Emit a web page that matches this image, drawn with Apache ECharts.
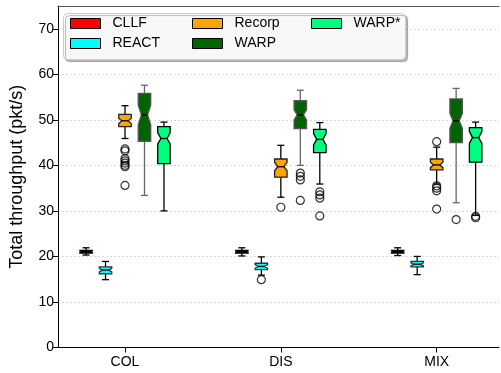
<!DOCTYPE html>
<html>
<head>
<meta charset="utf-8">
<script src="https://cdn.jsdelivr.net/npm/echarts@6/dist/echarts.min.js"></script>
<style>html,body{margin:0;padding:0;background:#fff}#c{width:501px;height:373px}</style>
</head>
<body>
<div id="c"></div>
<script>
// ---- data ----
const categories = ['COL', 'DIS', 'MIX'];
const seriesNames = ['CLLF', 'REACT', 'Recorp', 'WARP', 'WARP*'];
const yTicks = [0, 10, 20, 30, 40, 50, 60, 70];
// each entry: [whiskerLow, q1, notchLow, median, notchHigh, q3, whiskerHigh]
const CLLF_stats = [
  [20.3, 20.75, 20.85, 21.05, 21.25, 21.35, 21.9],
  [20.1, 20.75, 20.85, 21.05, 21.25, 21.35, 21.9],
  [20.2, 20.75, 20.85, 21.05, 21.25, 21.35, 21.9]
];
const REACT_stats = [
  [14.9, 16.2, 16.6, 17.0, 17.4, 17.7, 18.9],
  [15.9, 17.1, 17.4, 17.8, 18.2, 18.5, 19.9],
  [16.0, 17.7, 17.9, 18.3, 18.6, 18.9, 20.0]
];
const Recorp_stats = [
  [45.9, 48.5, 49.2, 49.8, 50.3, 51.2, 53.1],
  [33.0, 37.4, 38.8, 39.7, 40.7, 41.4, 44.4],
  [35.9, 39.0, 39.5, 40.1, 40.7, 41.4, 44.0]
];
const WARP_stats = [
  [33.4, 45.3, 48.9, 51.1, 53.2, 55.8, 57.6],
  [40.0, 48.1, 50.0, 51.1, 52.2, 54.2, 56.5],
  [31.8, 45.0, 48.1, 49.8, 51.4, 54.6, 56.9]
];
const WARPs_stats = [
  [30.0, 40.4, 44.7, 45.9, 47.2, 48.5, 49.5],
  [35.9, 42.8, 44.5, 45.7, 47.0, 47.9, 49.4],
  [29.0, 40.7, 44.8, 46.1, 47.4, 48.3, 49.5]
];
// outliers per category
const CLLF_out = [[], [], []];
const REACT_out = [[], [14.9], []];
const Recorp_out = [[43.6, 43.2, 41.5, 41.0, 40.5, 40.0, 39.7, 35.6], [30.8], [45.2, 35.5, 35.0, 34.4, 30.4]];
const WARP_out = [[], [38.3, 37.6, 36.8, 32.3], [28.1]];
const WARPs_out = [[], [34.2, 33.5, 32.8, 28.9], [28.8, 28.5]];

// ---- styling ----
const allStats = [CLLF_stats, REACT_stats, Recorp_stats, WARP_stats, WARPs_stats];
const allOut = [CLLF_out, REACT_out, Recorp_out, WARP_out, WARPs_out];
const fills = ['#ff0000', '#00ffff', '#ffa500', '#006400', '#00ff7f'];
const edges = ['#000000', '#333333', '#222222', '#555555', '#000000'];
const whiskerColors = ['#000000', '#000000', '#000000', '#666666', '#000000'];
const OFFSET_STEP = 0.125;
const BOX_W = 0.08;
const CAP_W = 0.045;

function makeRender(k) {
  return function (params, api) {
    const x = api.value(0);
    const v = [1, 2, 3, 4, 5, 6, 7].map(i => api.value(i));
    const y = val => api.coord([x, val])[1];
    const xc = api.coord([x, 0])[0];
    const hw = api.size([BOX_W, 0])[0] / 2;
    const cw = api.size([CAP_W, 0])[0] / 2;
    const inset = hw * 0.5;
    const [wl, q1, nl, md, nh, q3, wh] = v.map(y);
    const L = xc - hw, R = xc + hw;
    const lineStyle = {stroke: whiskerColors[k], lineWidth: 1.3};
    return {
      type: 'group',
      children: [
        {type: 'line', shape: {x1: xc, y1: wl, x2: xc, y2: q1}, style: lineStyle},
        {type: 'line', shape: {x1: xc, y1: q3, x2: xc, y2: wh}, style: lineStyle},
        {type: 'line', shape: {x1: xc - cw, y1: wl, x2: xc + cw, y2: wl}, style: lineStyle},
        {type: 'line', shape: {x1: xc - cw, y1: wh, x2: xc + cw, y2: wh}, style: lineStyle},
        {type: 'polygon', shape: {points: [
          [L, q1], [R, q1], [R, nl], [R - inset, md], [R, nh], [R, q3],
          [L, q3], [L, nh], [L + inset, md], [L, nl]
        ]}, style: {fill: fills[k], stroke: edges[k], lineWidth: 1.3}},
        {type: 'line', shape: {x1: L + inset, y1: md, x2: R - inset, y2: md}, style: {stroke: '#000', lineWidth: 1.3}}
      ]
    };
  };
}

const series = [];
seriesNames.forEach((name, k) => {
  const off = (k - 2) * OFFSET_STEP;
  series.push({
    name: name,
    type: 'custom',
    renderItem: makeRender(k),
    itemStyle: {color: fills[k], borderColor: '#000'},
    encode: {x: 0, y: [1, 2, 3, 4, 5, 6, 7]},
    data: allStats[k].map((s, i) => [i + off].concat(s)),
    z: 3
  });
  const pts = [];
  allOut[k].forEach((arr, i) => arr.forEach(val => pts.push([i + off, val])));
  series.push({
    name: name + ' outliers',
    type: 'scatter',
    symbol: 'circle',
    symbolSize: 8,
    itemStyle: {color: 'rgba(255,255,255,0)', borderColor: '#000', borderWidth: 1.2},
    data: pts,
    z: 4
  });
});

const legendPos = [[70, 16.5], [70, 36.5], [192, 16.5], [192, 36.5], [311, 16.5]];
const legends = seriesNames.map((name, k) => ({
  left: legendPos[k][0], top: legendPos[k][1], padding: 0,
  itemWidth: 30, itemHeight: 10, selectedMode: false,
  formatter: '{t|{name}}',
  textStyle: {fontFamily: 'Liberation Sans, Arial', fontSize: 14, color: '#000',
    rich: {t: {fontFamily: 'Liberation Sans, Arial', fontSize: 14, color: '#000', padding: [0, 0, 0, 7]}}},
  data: [{name: name, icon: 'rect', itemStyle: {color: fills[k], borderColor: '#000', borderWidth: 1}}],
  z: 5
}));

const chart = echarts.init(document.getElementById('c'), null, {renderer: 'canvas'});
chart.setOption({
  animation: false,
  backgroundColor: '#fff',
  grid: {left: 57, right: 2, top: 6, bottom: 25.5, containLabel: false},
  legend: legends,
  graphic: [{
    type: 'rect', z: 3,
    shape: {x: 63.5, y: 13.5, width: 342, height: 46, r: 4},
    style: {fill: 'rgba(255,255,255,0.9)', stroke: '#cccccc', lineWidth: 1,
      shadowColor: 'rgba(0,0,0,0.3)', shadowOffsetX: 2, shadowOffsetY: 2, shadowBlur: 1}
  }],
  xAxis: [{
    type: 'value', min: -0.43, max: 2.4,
    axisLine: {show: true, onZero: false, lineStyle: {color: '#000', width: 1}},
    axisTick: {show: true, length: 5, customValues: [0, 1, 2], lineStyle: {color: '#000'}},
    axisLabel: {customValues: [0, 1, 2], formatter: v => categories[Math.round(v)] || '',
      fontFamily: 'Liberation Sans, Arial', fontSize: 14, color: '#000', margin: 8},
    splitLine: {show: false}
  }, {
    type: 'value', position: 'top', min: -0.43, max: 2.4,
    axisLine: {show: true, onZero: false, lineStyle: {color: '#555', width: 1.2}},
    axisTick: {show: false}, axisLabel: {show: false}, splitLine: {show: false}
  }],
  yAxis: {
    type: 'value', min: 0, max: 75,
    name: 'Total throughput (pkt/s)', nameLocation: 'middle', nameGap: 32,
    nameTextStyle: {fontFamily: 'Liberation Sans, Arial', fontSize: 18, color: '#000'},
    axisLine: {show: true, onZero: false, lineStyle: {color: '#000', width: 1}},
    axisTick: {show: true, length: 5, customValues: yTicks, lineStyle: {color: '#000'}},
    axisLabel: {customValues: yTicks, fontFamily: 'Liberation Sans, Arial', fontSize: 14, color: '#000', margin: 4},
    splitLine: {show: true, lineStyle: {color: '#d9d9d9', type: [2, 2], width: 1}}
  },
  series: series
});
</script>
</body>
</html>
